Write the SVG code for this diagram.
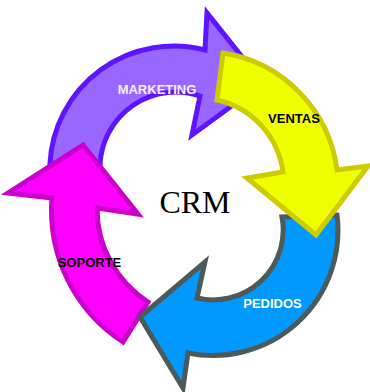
<svg xmlns="http://www.w3.org/2000/svg" width="370" height="392" viewBox="0 0 370 392">
<style>
.arrow{stroke-width:5;stroke-linejoin:miter;stroke-miterlimit:10}
.lbl{font-family:"Liberation Sans",Arial,sans-serif;font-weight:bold;font-size:13px;text-anchor:middle}
</style>
<rect width="370" height="392" fill="#ffffff"/>
<g id="marketing">
<path class="arrow" fill="#9966ff" stroke="#5f14ff" d="M50,163 A124,124 0 0 1 205,50 L207,13 L263,83 L192,135 L200,96 A76,76 0 0 0 100,165 Z"/>
<text class="lbl" x="157" y="94" fill="#f4f0ff">MARKETING</text>
</g>
<g id="soporte">
<path class="arrow" fill="#ff00ff" stroke="#cc00cc" d="M123,342 A157,157 0 0 1 52,198 L8,193 L83,145 L138,214 L97,208 A111,111 0 0 0 148,302 Z"/>
<text class="lbl" x="89.5" y="267" fill="#000000">SOPORTE</text>
</g>
<g id="pedidos">
<path class="arrow" fill="#0099ff" stroke="#4d5a5a" d="M337,215 A125,125 0 0 1 188,353 L183,388 L140,317 L205,262 L197,298 A70,70 0 0 0 282,217 Z"/>
<text class="lbl" x="272.5" y="308" fill="#ffffff">PEDIDOS</text>
</g>
<g id="ventas">
<path class="arrow" fill="#f0ff00" stroke="#cccc00" d="M223,53 A136,136 0 0 1 337,170 L368,166 L316,235 L247,178 L283,172 A85,85 0 0 0 217,100 Z"/>
<text class="lbl" x="294" y="123" fill="#000000">VENTAS</text>
</g>
<g id="crm">
<text x="195" y="213" font-family="'Liberation Serif','Times New Roman',serif" font-size="32" text-anchor="middle" fill="#000000">CRM</text>
</g>
</svg>
